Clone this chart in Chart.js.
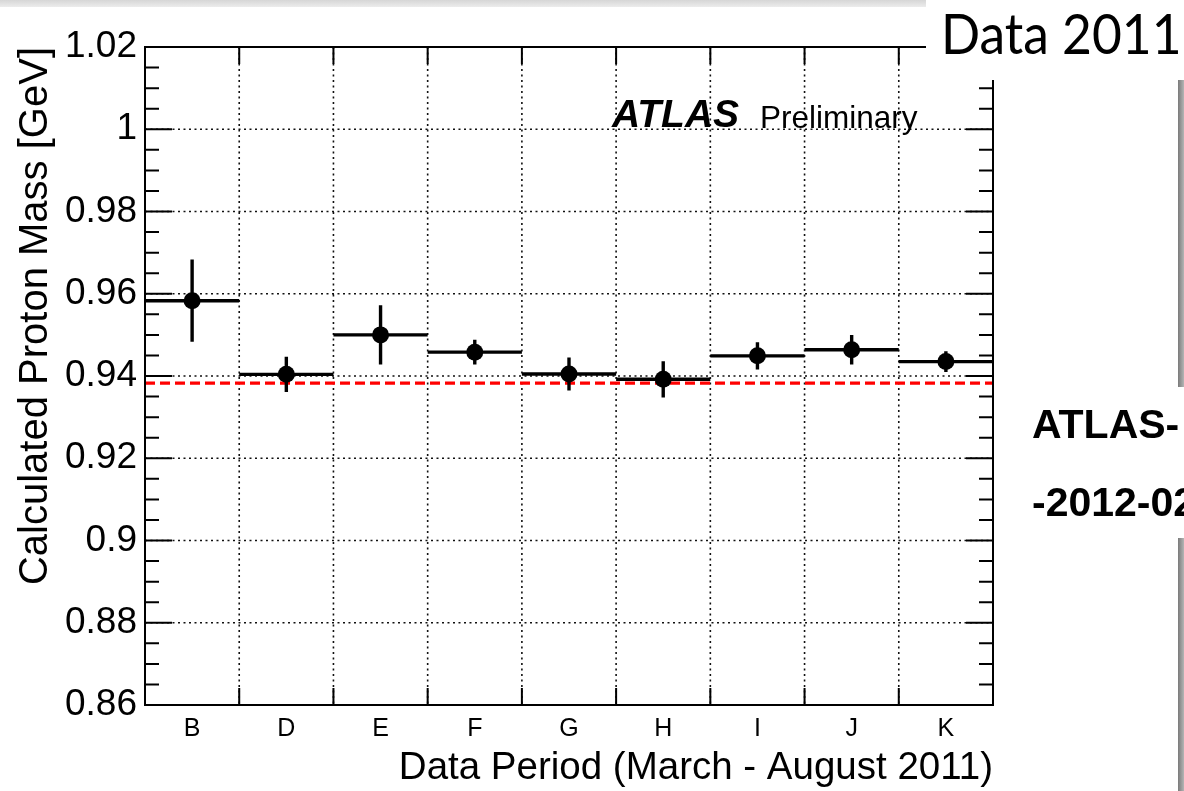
<!DOCTYPE html>
<html>
<head>
<meta charset="utf-8">
<script src="https://cdn.jsdelivr.net/npm/chart.js@4.4.0/dist/chart.umd.min.js"></script>
<style>
  html, body { margin: 0; padding: 0; background: #fff; overflow: hidden; }
  #wrap { position: relative; width: 1184px; height: 791px; overflow: hidden; }
  #wrap canvas { position: absolute; left: 0; top: 0; }
  .abs { position: absolute; white-space: nowrap; color: #000; font-family: "Liberation Sans", Arial, sans-serif; }
  #topStrip { left: 0; top: 0; width: 926px; height: 7px; background: linear-gradient(#d6d6d6, #ececec); }
  #atlasLabel { left: 612px; top: 94px; font-size: 39px; line-height: 39px; font-weight: bold; font-style: italic; }
  #prelimLabel { left: 760px; top: 102px; font-size: 31.5px; line-height: 31.5px; }
  #dataBox { left: 926px; top: 0; width: 258px; height: 80px; background: #fff; }
  #dataBox span { position: absolute; left: 15px; top: 5px; font-family: Lato, "Open Sans", sans-serif; font-size: 56px; line-height: 56px; transform: scaleX(0.92); transform-origin: left center; }
  .bar { left: 1178px; width: 6px; background: linear-gradient(to right, #7a7a7a, #b5b5b5); }
  .side { left: 1032px; font-size: 41px; line-height: 41px; font-weight: bold; }
</style>
</head>
<body>
<div id="wrap">
  <canvas id="massChart" width="1184" height="791"></canvas>
  <div class="abs" id="topStrip"></div>
  <div class="abs" id="atlasLabel">ATLAS</div>
  <div class="abs" id="prelimLabel">Preliminary</div>
  <div class="abs" id="dataBox"><span>Data 2011</span></div>
  <div class="abs bar" style="top:80px;height:307px"></div>
  <div class="abs bar" style="top:538px;height:253px"></div>
  <div class="abs side" style="top:404px">ATLAS-</div>
  <div class="abs side" style="top:482px">-2012-02</div>
</div>
<script>
// ===== data =====
const periods = ["B", "D", "E", "F", "G", "H", "I", "J", "K"];
const protonMass = [0.9583, 0.9404, 0.9500, 0.9458, 0.9405, 0.9392, 0.9449, 0.9464, 0.9435];
const massError = [0.0100, 0.0043, 0.0072, 0.0030, 0.0040, 0.0044, 0.0033, 0.0036, 0.0025];
const pdgMass = 0.938272;
const yTicks = [0.86, 0.88, 0.9, 0.92, 0.94, 0.96, 0.98, 1.0, 1.02];
const MINOR_DIV = 4;

const FONT = "'Liberation Sans', Arial, sans-serif";

// ===== ROOT-like frame, grid, error bars =====
function binHalf(x) {
  return (x.getPixelForValue(1) - x.getPixelForValue(0)) / 2;
}

const rootStyle = {
  id: "rootStyle",
  beforeDatasetsDraw(chart) {
    const { ctx, chartArea: a, scales: { x, y } } = chart;
    const half = binHalf(x);
    ctx.save();

    // dotted grid at major y ticks and bin edges
    ctx.strokeStyle = "#111";
    ctx.lineWidth = 1.6;
    ctx.setLineDash([2, 3.5]);
    ctx.beginPath();
    for (const v of yTicks.slice(1, -1)) {
      const py = y.getPixelForValue(v);
      ctx.moveTo(a.left, py);
      ctx.lineTo(a.right, py);
    }
    for (let i = 1; i < periods.length; i++) {
      const px = x.getPixelForValue(i) - half;
      ctx.moveTo(px, a.top);
      ctx.lineTo(px, a.bottom);
    }
    ctx.stroke();

    // PDG proton mass
    ctx.strokeStyle = "#ff0000";
    ctx.lineWidth = 3.2;
    ctx.setLineDash([10, 5]);
    const pm = y.getPixelForValue(pdgMass);
    ctx.beginPath();
    ctx.moveTo(a.left, pm);
    ctx.lineTo(a.right, pm);
    ctx.stroke();

    // bin width bars + error bars
    ctx.setLineDash([]);
    ctx.strokeStyle = "#000";
    ctx.lineWidth = 3.4;
    ctx.beginPath();
    protonMass.forEach((m, i) => {
      const cx = x.getPixelForValue(i);
      const cy = y.getPixelForValue(m);
      ctx.moveTo(cx - half, cy);
      ctx.lineTo(cx + half, cy);
      ctx.moveTo(cx, y.getPixelForValue(m + massError[i]));
      ctx.lineTo(cx, y.getPixelForValue(m - massError[i]));
    });
    ctx.stroke();
    ctx.restore();
  },
  afterDatasetsDraw(chart) {
    const { ctx, chartArea: a, scales: { x, y } } = chart;
    const half = binHalf(x);
    ctx.save();
    ctx.strokeStyle = "#000";
    ctx.lineWidth = 2;
    ctx.strokeRect(a.left, a.top, a.right - a.left, a.bottom - a.top);

    ctx.beginPath();
    // y ticks, inside, both sides
    const step = (yTicks[1] - yTicks[0]) / MINOR_DIV;
    const n = (yTicks.length - 1) * MINOR_DIV;
    for (let k = 1; k < n; k++) {
      const py = y.getPixelForValue(yTicks[0] + k * step);
      const len = k % MINOR_DIV === 0 ? 27 : 14;
      ctx.moveTo(a.left, py);
      ctx.lineTo(a.left + len, py);
      ctx.moveTo(a.right, py);
      ctx.lineTo(a.right - len, py);
    }
    // x ticks at bin edges, top and bottom
    for (let i = 1; i < periods.length; i++) {
      const px = x.getPixelForValue(i) - half;
      ctx.moveTo(px, a.bottom);
      ctx.lineTo(px, a.bottom - 17);
      ctx.moveTo(px, a.top);
      ctx.lineTo(px, a.top + 17);
    }
    ctx.stroke();
    ctx.restore();
  },
};

// ===== chart =====
new Chart(document.getElementById("massChart"), {
  type: "line",
  data: {
    labels: periods,
    datasets: [{
      data: protonMass,
      showLine: false,
      pointRadius: 8.5,
      pointHoverRadius: 8.5,
      pointBackgroundColor: "#000",
      pointBorderWidth: 0,
    }],
  },
  options: {
    responsive: false,
    animation: false,
    events: [],
    layout: { padding: { left: 0, top: 47, right: 191, bottom: 0 } },
    plugins: { legend: { display: false }, tooltip: { enabled: false } },
    scales: {
      x: {
        type: "category",
        offset: true,
        grid: { display: false },
        border: { display: false },
        ticks: { color: "#000", font: { family: FONT, size: 25 }, padding: 1, maxRotation: 0, autoSkip: false },
        title: {
          display: true,
          text: "Data Period (March - August 2011)",
          align: "end",
          color: "#000",
          font: { family: FONT, size: 38.5 },
          padding: { top: 0, bottom: 0 },
        },
        afterFit: (s) => { s.height = 86; },
      },
      y: {
        min: 0.86,
        max: 1.02,
        grid: { display: false },
        border: { display: false },
        afterBuildTicks: (s) => { s.ticks = yTicks.map((v) => ({ value: v })); },
        ticks: {
          color: "#000",
          font: { family: FONT, size: 37 },
          padding: 0,
          autoSkip: false,
          callback: (v) => String(parseFloat(Number(v).toFixed(3))),
        },
        title: {
          display: true,
          text: "Calculated Proton Mass [GeV]",
          align: "end",
          color: "#000",
          font: { family: FONT, size: 40 },
          padding: { top: 12, bottom: 0 },
        },
        afterFit: (s) => { s.width = 145; },
      },
    },
  },
  plugins: [rootStyle],
});
</script>
</body>
</html>
